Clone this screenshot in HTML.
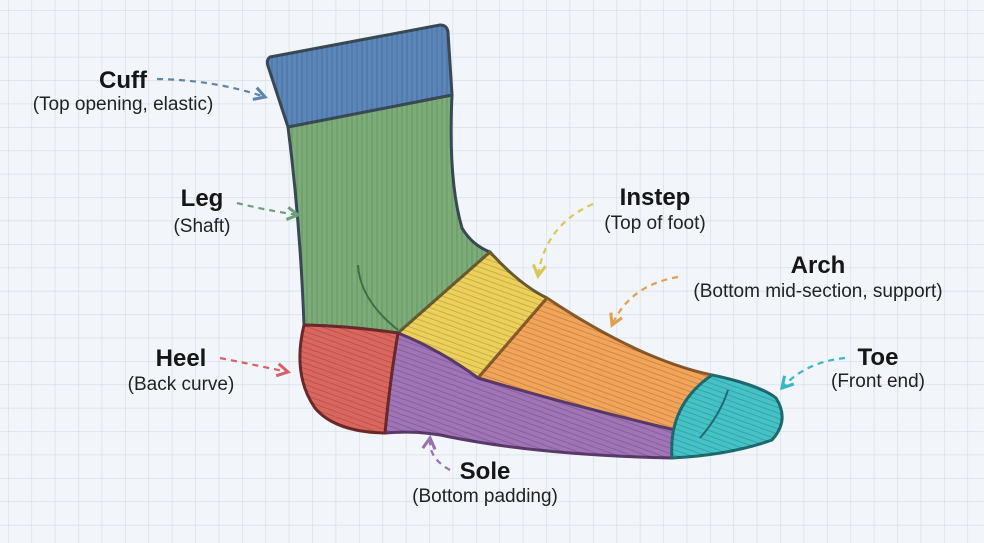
<!DOCTYPE html>
<html><head><meta charset="utf-8"><style>
html,body{margin:0;padding:0;}
body{width:984px;height:543px;overflow:hidden;background:#f2f5f9;font-family:"Liberation Sans",Arial,sans-serif;}
svg{display:block}
.t{font-weight:bold;font-size:24px;fill:#161616}
.s{font-size:19px;fill:#222}
</style></head><body>
<svg width="984" height="543" viewBox="0 0 984 543">
<defs>
<pattern id="g" x="8" y="10" width="23.4" height="23.4" patternUnits="userSpaceOnUse">
<path d="M0 0H23.4M0 0V23.4" stroke="#d3dbe8" stroke-width="1.2" fill="none"/>
</pattern>
<pattern id="rib" width="5" height="5" patternUnits="userSpaceOnUse"><path d="M2 0V5" stroke="#000" stroke-opacity=".16" stroke-width="1"/></pattern>
<pattern id="ribh" width="5" height="5" patternUnits="userSpaceOnUse" patternTransform="rotate(20)"><path d="M0 2H5" stroke="#000" stroke-opacity=".16" stroke-width="1"/></pattern>
<marker id="ar" viewBox="0 0 10 10" refX="8" refY="5" markerWidth="7" markerHeight="7" orient="auto"><path d="M1 1L8 5L1 9" fill="none" stroke="context-stroke" stroke-width="2"/></marker>
</defs>
<rect width="984" height="543" fill="url(#g)"/>
<g stroke="#3a4a55" stroke-width="3" stroke-linejoin="round">
<path d="M288 127 L452 95 Q448 180 462 228 Q472 245 490 252 L398 333 Q350 326 304 325 Q300 220 288 127Z" fill="#7cad78"/>
<path d="M288 127 L452 95 Q448 180 462 228 Q472 245 490 252 L398 333 Q350 326 304 325 Q300 220 288 127Z" fill="url(#rib)" stroke="none"/>
<path d="M490 252 Q520 285 547 298 L478 378 Q440 350 398 333Z" fill="#ecd05a" stroke="#6a5a30"/>
<path d="M490 252 Q520 285 547 298 L478 378 Q440 350 398 333Z" fill="url(#ribh)" stroke="none"/>
<path d="M547 298 Q640 360 712 375 L672 432 Q570 405 478 378Z" fill="#f2a458" stroke="#8a5a2a"/>
<path d="M547 298 Q640 360 712 375 L672 432 Q570 405 478 378Z" fill="url(#ribh)" stroke="none"/>
<path d="M398 333 Q440 350 478 378 Q570 405 675 430 L672 458 Q540 455 450 437 Q420 430 385 433 Q390 380 398 333Z" fill="#a074b6" stroke="#5a3a6a"/>
<path d="M398 333 Q440 350 478 378 Q570 405 675 430 L672 458 Q540 455 450 437 Q420 430 385 433 Q390 380 398 333Z" fill="url(#ribh)" stroke="none"/>
<path d="M304 325 Q350 326 398 333 Q390 380 385 433 Q335 432 315 408 Q292 375 304 325Z" fill="#da665e" stroke="#6a2a2a"/>
<path d="M304 325 Q350 326 398 333 Q390 380 385 433 Q335 432 315 408 Q292 375 304 325Z" fill="url(#ribh)" stroke="none"/>
<path d="M712 375 Q760 385 776 398 Q790 420 772 440 Q730 455 672 458 Q668 405 712 375Z" fill="#44c2c6" stroke="#1e6a70"/>
<path d="M712 375 Q760 385 776 398 Q790 420 772 440 Q730 455 672 458 Q668 405 712 375Z" fill="url(#ribh)" stroke="none"/>
<path d="M728 390 Q720 415 700 438" fill="none" stroke="#1e6a70" stroke-width="2"/>
<path d="M270 57 Q266 60 268 66 L288 127 L452 95 L448 32 Q447 25 440 25 Z" fill="#5a86ba"/>
<path d="M270 57 Q266 60 268 66 L288 127 L452 95 L448 32 Q447 25 440 25 Z" fill="url(#rib)" stroke="none"/>
<path d="M358 265 Q360 300 398 330" fill="none" stroke="#3e7048" stroke-width="2"/>
</g>
<g fill="none" stroke-width="2.2" stroke-dasharray="6 5" marker-end="url(#ar)">
<path d="M157 79 Q215 80 265 97" stroke="#5f86a8"/>
<path d="M237 203 Q265 210 298 215" stroke="#6aa07a"/>
<path d="M593 204 Q545 225 538 276" stroke="#d8c858"/>
<path d="M678 277 Q630 285 612 325" stroke="#e0a050"/>
<path d="M845 358 Q805 362 782 388" stroke="#3ab8c0"/>
<path d="M220 358 Q255 365 288 372" stroke="#d86068"/>
<path d="M450 470 Q428 458 430 438" stroke="#9a70b0"/>
</g>
<text class="t" x="123" y="88" text-anchor="middle">Cuff</text>
<text class="s" x="123" y="110" text-anchor="middle">(Top opening, elastic)</text>
<text class="t" x="202" y="206" text-anchor="middle">Leg</text>
<text class="s" x="202" y="232" text-anchor="middle">(Shaft)</text>
<text class="t" x="655" y="205" text-anchor="middle">Instep</text>
<text class="s" x="655" y="229" text-anchor="middle">(Top of foot)</text>
<text class="t" x="818" y="273" text-anchor="middle">Arch</text>
<text class="s" x="818" y="297" text-anchor="middle">(Bottom mid-section, support)</text>
<text class="t" x="878" y="365" text-anchor="middle">Toe</text>
<text class="s" x="878" y="387" text-anchor="middle">(Front end)</text>
<text class="t" x="181" y="366" text-anchor="middle">Heel</text>
<text class="s" x="181" y="390" text-anchor="middle">(Back curve)</text>
<text class="t" x="485" y="479" text-anchor="middle">Sole</text>
<text class="s" x="485" y="502" text-anchor="middle">(Bottom padding)</text>
</svg>
</body></html>
